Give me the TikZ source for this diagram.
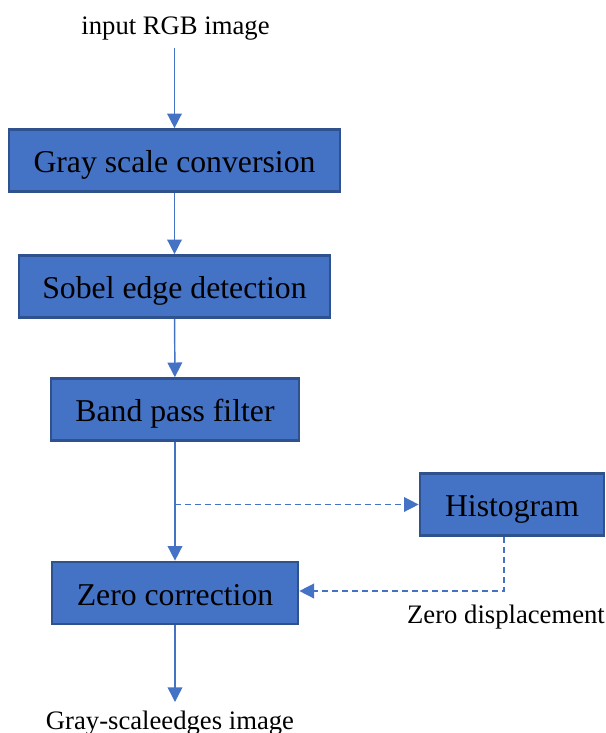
\documentclass[tikz,border=0pt]{standalone}
\usepackage{fontspec}
\setmainfont{Liberation Serif}
\usetikzlibrary{arrows.meta, positioning}
\definecolor{boxblue}{HTML}{4472C4}
\definecolor{boxedge}{HTML}{2F528F}

\begin{document}
\begin{tikzpicture}[
    x=0.75pt, y=-0.75pt,
    stage/.style={draw=boxedge, line width=2pt, fill=boxblue,
                  minimum height=46.5pt, inner sep=0pt,
                  text height=18.3pt, text depth=0pt,
                  font=\fontsize{23.8}{28}\selectfont},
    lbl/.style={inner sep=0pt, anchor=base, font=\fontsize{20}{24}\selectfont},
    flow/.style={draw=boxblue, line width=1.1pt, -{Triangle[length=11pt, width=11pt]}},
    side/.style={flow, dash pattern=on 4.5pt off 3pt}
  ]
    \useasboundingbox (0,0) rectangle (606,733);
    \node[lbl] (inp) at (175.5,34) {input RGB image};
    \node[stage, minimum width=248.25pt] (gray) at (174.5,160.5) {Gray scale conversion};
    \node[stage, minimum width=233.25pt] (sobel) at (174.5,286.5) {Sobel edge detection};
    \node[stage, minimum width=186pt] (band) at (175,409.5) {Band pass filter};
    \node[stage, minimum width=138pt] (hist) at (512,504.5) {Histogram};
    \node[stage, minimum width=184.5pt] (zero) at (175,593) {Zero correction};
    \node[lbl] (disp) at (506,623) {Zero displacement};
    \node[lbl] (out) at (170,729) {Gray-scaleedges image};
    \coordinate (src) at (174.5,48);
    \coordinate (tap) at (175,504.5);
    \coordinate (turn) at (504,591);
    \coordinate (sink) at (175,702);

    \draw[flow] (src) -- (gray.north);
    \draw[flow] (gray) -- (sobel);
    \draw[flow] (sobel) -- (band);
    \draw[flow] (band) -- (zero);
    \draw[flow] (zero.south) -- (sink);
    \draw[side] (tap) -- (hist.west);
    \draw[side] (hist.south -| turn) -- (turn) -- (zero.east |- turn);
  \end{tikzpicture}
\end{document}
